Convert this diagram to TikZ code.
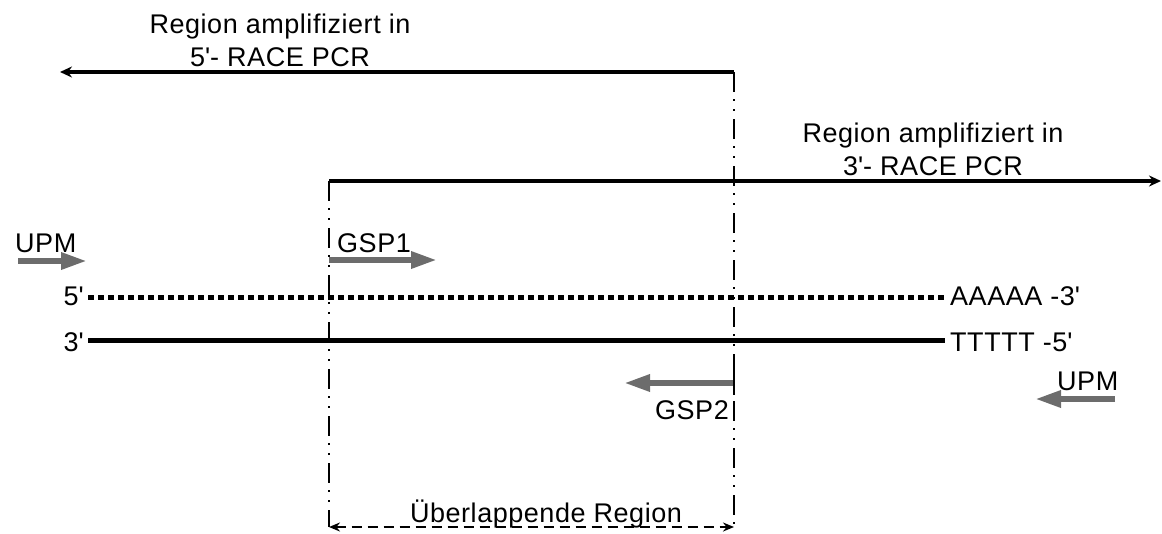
\documentclass[tikz,border=0pt]{standalone}
\usepackage{fontspec}
\setmainfont{Liberation Sans}[LetterSpace=2]
\usetikzlibrary{arrows.meta}
\definecolor{primerc}{RGB}{108,108,108}
\newcommand\ap{\textquotesingle}
\tikzset{
  lbl/.style={inner sep=0pt, font=\fontsize{27}{33}\selectfont},
  strand/.style={line width=5pt},
  dotstrand/.style={line width=5pt, dash pattern=on 6pt off 4pt},
  regionarrow/.style={line width=3.8pt, -{Stealth[length=12pt,width=11pt]}},
  primer/.style={line width=6pt, draw=primerc, -{Triangle[length=26pt,width=16pt,fill=primerc]}},
  bound/.style={line width=2pt, dash pattern=on 20pt off 7pt on 2pt off 8pt on 2pt off 8pt},
  overlap/.style={line width=2pt, dash pattern=on 10pt off 6pt, {Stealth[length=11pt,width=9pt]}-{Stealth[length=11pt,width=9pt]}},
}
\begin{document}
\begin{tikzpicture}[x=1pt,y=-1pt]
\useasboundingbox (0,0) rectangle (1162,533);
% coordinates
\coordinate (t5s) at (734,72);
\coordinate (t5e) at (60,72);
\coordinate (t3s) at (329,181);
\coordinate (t3e) at (1161,181);
\coordinate (bl) at (329,527);
\coordinate (br) at (734,527);
\coordinate (d5s) at (88,297);
\coordinate (d5e) at (945,297);
\coordinate (d3s) at (88,340);
\coordinate (d3e) at (945,340);
\coordinate (upmls) at (18,261);
\coordinate (upmle) at (87,261);
\coordinate (gsp1s) at (329,260);
\coordinate (gsp1e) at (437,260);
\coordinate (gsp2s) at (734,383);
\coordinate (gsp2e) at (624,383);
\coordinate (tickt) at (734,368);
\coordinate (tickb) at (734,395);
\coordinate (upmrs) at (1115,399);
\coordinate (upmre) at (1035,399);
% labels
\node[lbl, anchor=base, align=center] (l5) at (280,66) {Region amplifiziert in\\5\ap- RACE PCR};
\node[lbl, anchor=base, align=center] (l3) at (933,175) {Region amplifiziert in\\3\ap- RACE PCR};
\node[lbl, anchor=base west] (upml) at (15,252) {UPM};
\node[lbl, anchor=base west] (gsp1) at (337,252) {GSP1};
\node[lbl, anchor=base east] (p5) at (84,305) {5\ap};
\node[lbl, anchor=base east] (p3) at (84,351) {3\ap};
\node[lbl, anchor=base west] (aaa) at (950,305) {AAAAA -3\ap};
\node[lbl, anchor=base west] (ttt) at (950,351) {TTTTT -5\ap};
\node[lbl, anchor=base east] (gsp2) at (729,419) {GSP2};
\node[lbl, anchor=base west] (upmr) at (1057,390) {UPM};
\node[lbl, anchor=base] (ovl) at (546,522) {Überlappende Region};
% region arrows and boundaries
\draw[bound] (t3s) -- (bl);
\draw[bound] (t5s) -- (br);
\draw[regionarrow] (t5s) -- (t5e);
\draw[regionarrow] (t3s) -- (t3e);
\draw[overlap] (bl) -- (br);
% strands
\draw[dotstrand] (d5s) -- (d5e);
\draw[strand] (d3s) -- (d3e);
% primers
\draw[primer] (upmls) -- (upmle);
\draw[primer] (gsp1s) -- (gsp1e);
\draw[primer] (gsp2s) -- (gsp2e);
\draw[primer] (upmrs) -- (upmre);
\draw[line width=2pt] (tickt) -- (tickb);
\end{tikzpicture}
\end{document}
